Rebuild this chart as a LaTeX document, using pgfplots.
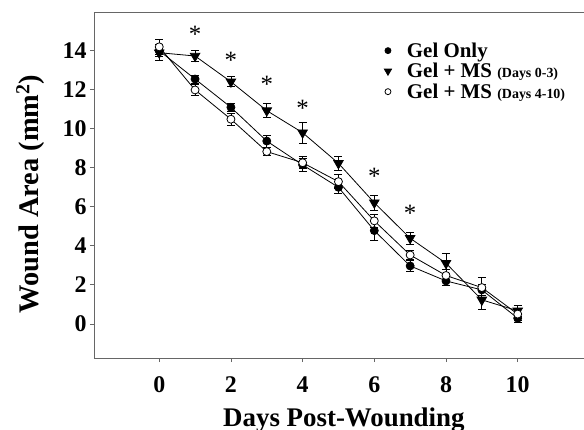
\documentclass[border=0pt]{standalone}
\usepackage{fontspec}
\setmainfont{Liberation Serif}
\usepackage{pgfplots}
\pgfplotsset{compat=1.18}
\usetikzlibrary{calc}

% wound area, mean and error, per day
\pgfplotstableread{
x y e
0 14.0 0.30
1 12.55 0.20
2 11.10 0.20
3 9.37 0.30
4 8.15 0.35
5 7.00 0.30
6 4.78 0.50
7 2.97 0.30
8 2.20 0.25
9 1.74 0.30
10 0.29 0.20
}\gelonly
\pgfplotstableread{
x y e
0 13.90 0.40
1 13.73 0.30
2 12.41 0.25
3 10.93 0.35
4 9.80 0.55
5 8.23 0.35
6 6.21 0.40
7 4.39 0.30
8 3.11 0.50
9 1.23 0.50
10 0.67 0.30
}\msearly
\pgfplotstableread{
x y e
0 14.20 0.40
1 11.99 0.30
2 10.49 0.30
3 8.83 0.20
4 8.26 0.30
5 7.29 0.35
6 5.28 0.35
7 3.53 0.25
8 2.48 0.30
9 1.86 0.50
10 0.50 0.30
}\mslate
\pgfplotstableread{
x y
1 14.85
2 13.5
3 12.3
4 11.05
6 7.57
7 5.65
}\stars

\begin{document}
\begin{tikzpicture}
\begin{axis}[
  scale only axis,
  width=490bp, height=345.3bp,
  xmin=-1.82, xmax=11.85,
  ymin=-1.75, ymax=15.95,
  axis x line*=box, axis y line*=left,
  xtick pos=bottom, ytick pos=left,
  xtick={0,2,...,10}, ytick={0,2,...,14},
  tick align=outside, major tick length=4bp,
  axis line style={black!60, line width=0.7pt},
  tick style={black!60, line width=0.7pt},
  /pgf/number format/assume math mode=true,
  ticklabel style={font=\bfseries\fontsize{24}{24}\selectfont},
  xticklabel style={yshift=-11bp},
  xlabel={Days Post-Wounding},
  ylabel={Wound Area (mm\textsuperscript{2})},
  xlabel style={font=\bfseries\fontsize{27}{27}\selectfont, at={(axis description cs:0.51,-0.197)}, anchor=base},
  ylabel style={font=\bfseries\fontsize{28.5}{28.5}\selectfont, at={(axis description cs:-0.13,0.475)}, anchor=center},
  legend cell align=left,
  legend style={draw=none, fill=none, at={(axis description cs:0.573,0.924)}, anchor=north west,
    font=\bfseries\fontsize{21}{21}\selectfont, row sep=1.5bp,
    nodes={inner ysep=1.5bp}},
  legend image code/.code={%
    \path[draw=none] (0bp,0bp) -- (27bp,0bp);
    \draw[#1, only marks, /tikz/every mark/.append style={scale=0.75}] plot coordinates {(10bp,0bp)};},
  error bars/y dir=both, error bars/y explicit,
  error bars/error mark options={rotate=90, mark size=4bp, line width=0.8pt, black},
  error bars/error bar style={line width=0.8pt, black},
]
\addplot[black, line width=0.8pt, mark=*, mark size=4bp] table[x=x, y=y, y error=e] {\gelonly};
\addlegendentry{Gel Only}
\addplot[black, line width=0.8pt, mark=triangle*, mark size=5.5bp, mark options={rotate=180}] table[x=x, y=y, y error=e] {\msearly};
\addlegendentry{Gel + MS {\fontsize{14}{14}\selectfont (Days 0-3)}}
\addplot[black, line width=0.8pt, mark=*, mark size=4bp, mark options={fill=white}] table[x=x, y=y, y error=e] {\mslate};
\addlegendentry{Gel + MS {\fontsize{14}{14}\selectfont (Days 4-10)}}
\addplot[draw=none, mark=none, forget plot, error bars/y dir=none,
  nodes near coords={\fontsize{25}{25}\selectfont *},
  every node near coord/.append style={anchor=center, inner sep=0pt}] table[x=x, y=y] {\stars};
\end{axis}
\pgfresetboundingbox
\path[use as bounding box] ($(current axis.south west)+(-94bp,-72bp)$) rectangle ($(current axis.south west)+(490bp,345.3bp)+(0,12.7bp)$);
\end{tikzpicture}
\end{document}
